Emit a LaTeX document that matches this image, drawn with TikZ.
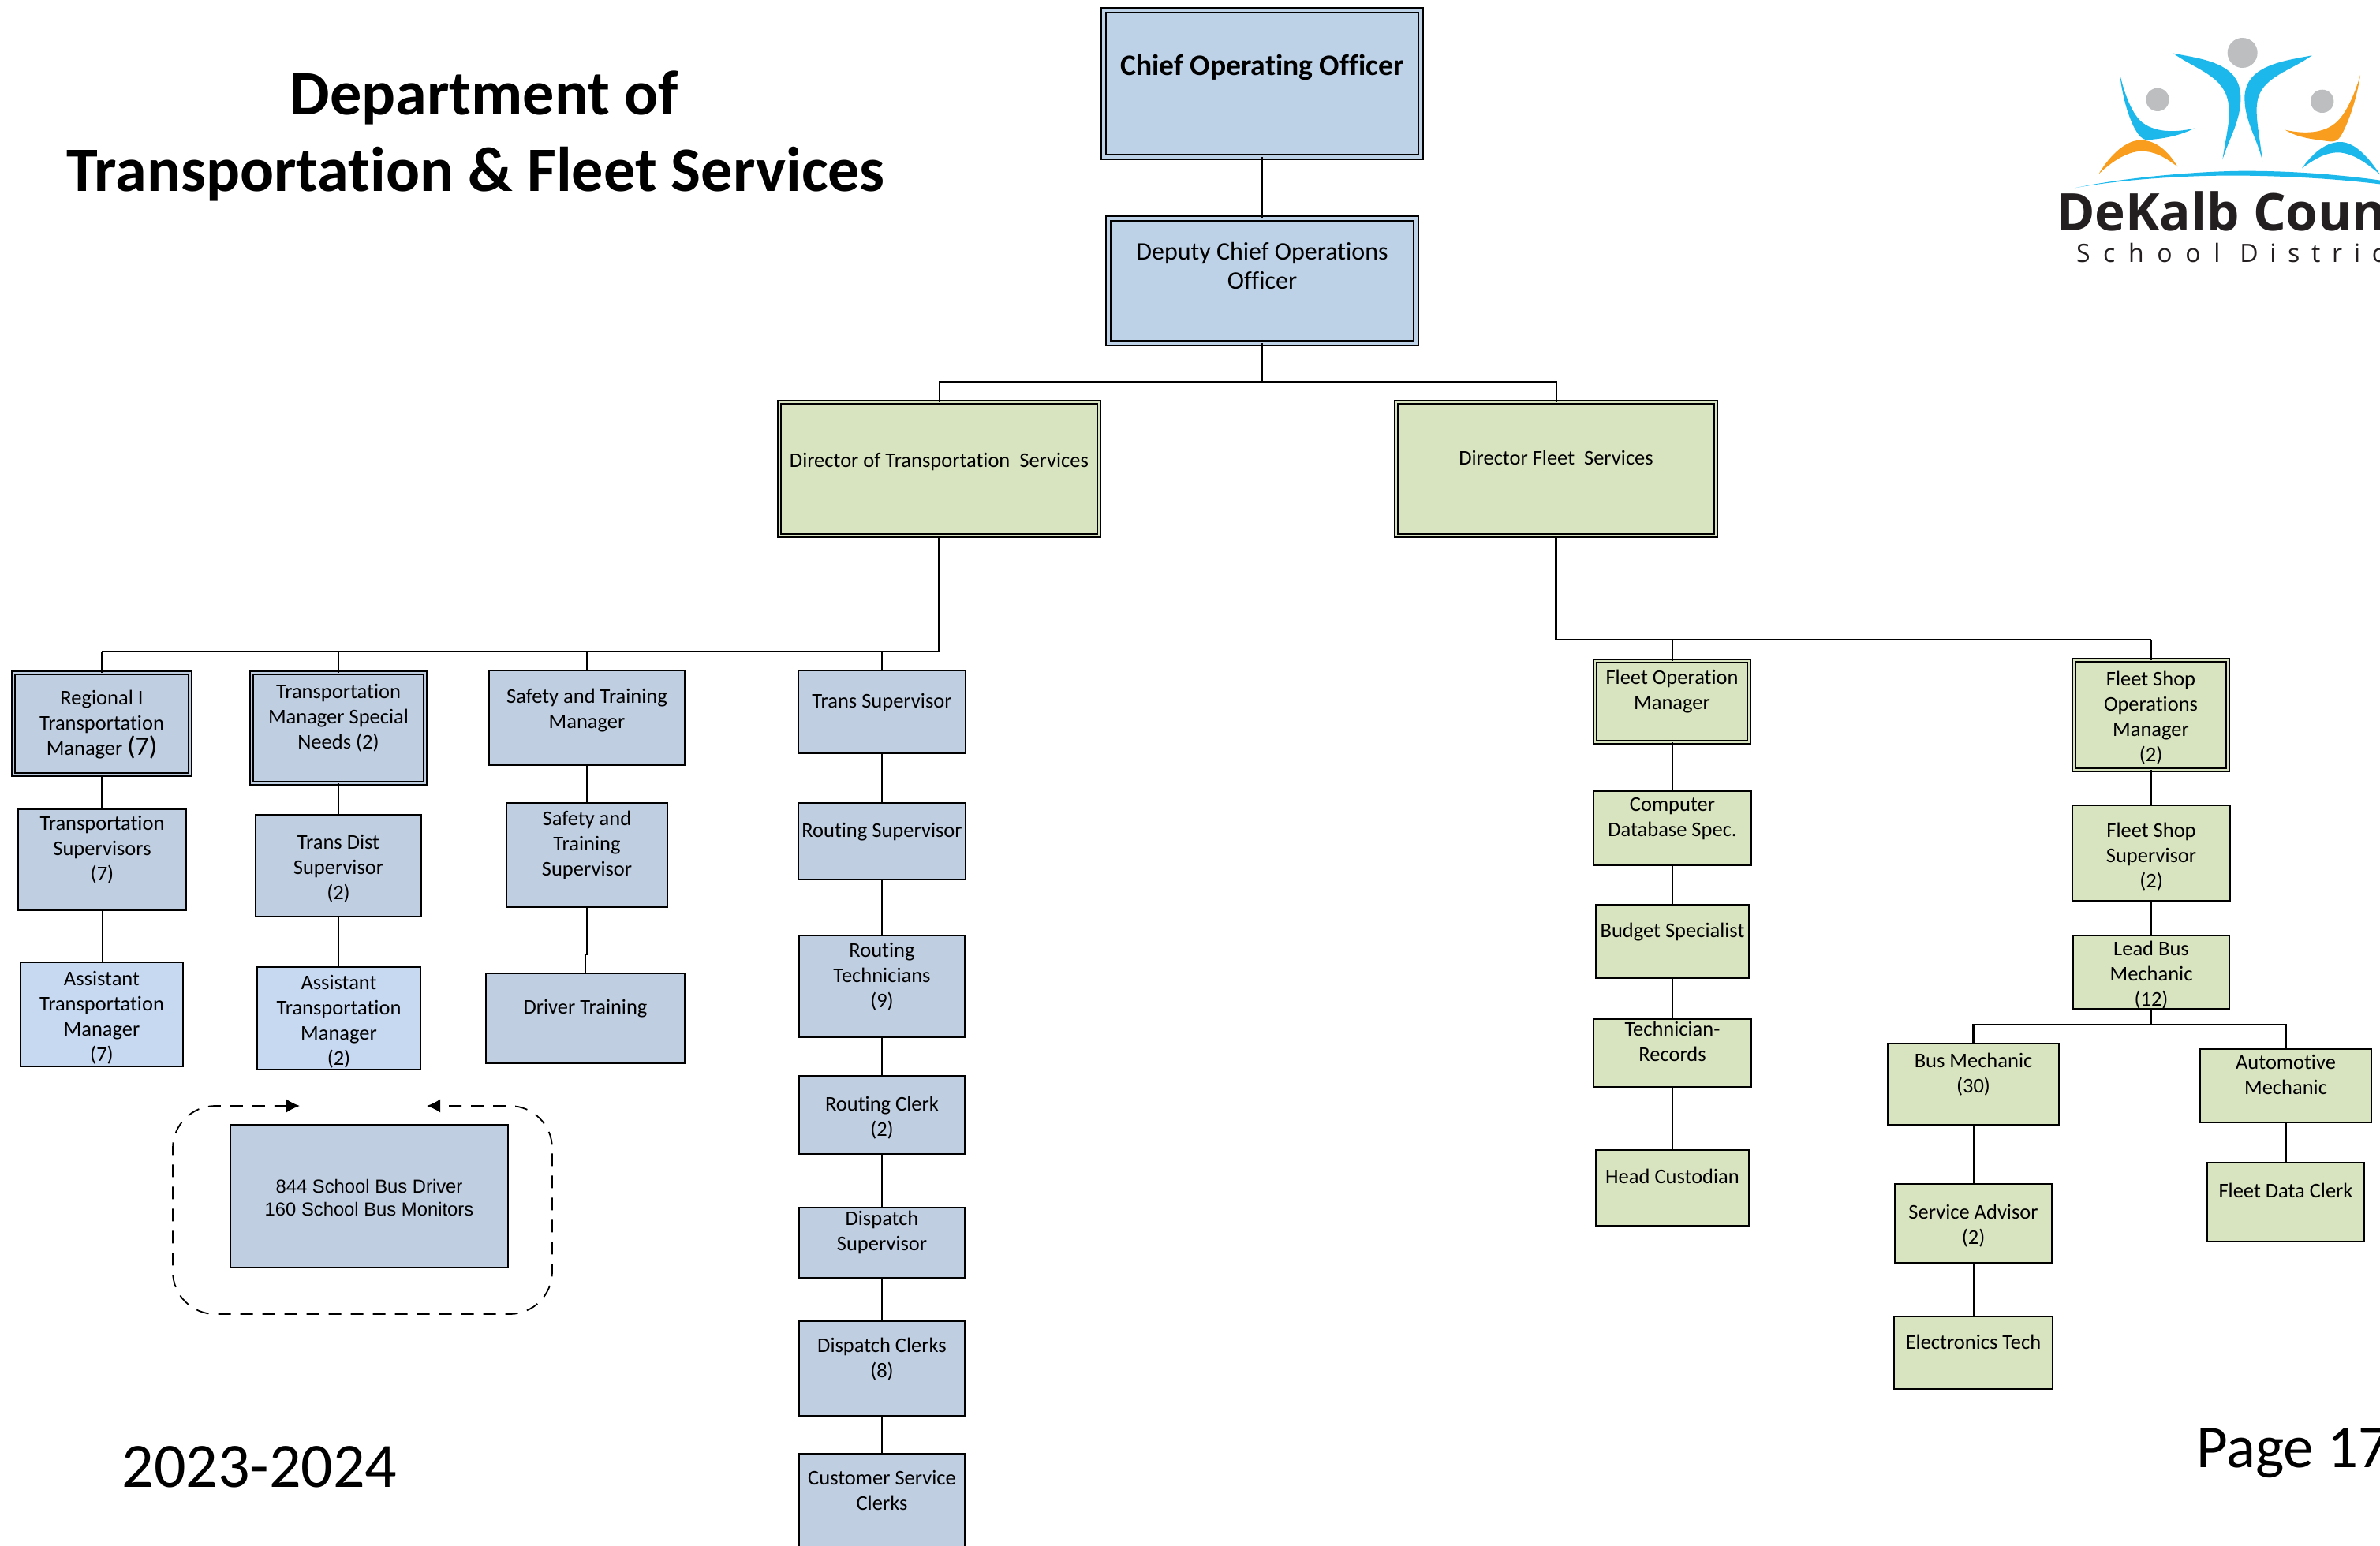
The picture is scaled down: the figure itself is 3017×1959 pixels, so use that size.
\documentclass[tikz,border=0pt]{standalone}
\usepackage{fontspec}
\setmainfont{Carlito}[Ligatures=NoCommon]
\newfontfamily\arl{Liberation Sans}
\newfontfamily\logofont{Open Sans}
\usetikzlibrary{arrows.meta}
\definecolor{bluebox}{HTML}{BFCEE1}
\definecolor{topblue}{HTML}{BDD2E7}
\definecolor{lightblue}{HTML}{C6D9F1}
\definecolor{greenbox}{HTML}{D8E3BF}
\definecolor{logoblue}{HTML}{1CB8EC}
\definecolor{logoorange}{HTML}{F99D1E}
\definecolor{logogrey}{HTML}{BCBEC0}
\definecolor{logoink}{HTML}{231F20}
\tikzset{
  orgbox/.style={rectangle,draw=black,line width=1.1pt,inner sep=0pt,outer sep=0pt,
    font=\fontsize{13.25}{16}\selectfont,text=black},
  bluefill/.style={orgbox,fill=bluebox},
  lightfill/.style={orgbox,fill=lightblue},
  greenfill/.style={orgbox,fill=greenbox},
  dblblue/.style={orgbox,fill=bluebox,line width=1pt,double=bluebox,double distance=1.3pt},
  dbltop/.style={orgbox,fill=topblue,line width=1pt,double=topblue,double distance=1.6pt},
  dblgreen/.style={orgbox,fill=greenbox,line width=1pt,double=greenbox,double distance=1.3pt},
  conn/.style={draw=black,line width=1pt},
  busline/.style={draw=black,line width=1.4pt},
  bigtext/.style={inner sep=0pt,outer sep=0pt,text=black},
  loopline/.style={draw=black,line width=0.9pt,dash pattern=on 8pt off 6pt,rounded corners=27pt,
    {Latex[length=8.5pt,width=8.5pt]}-{Latex[length=8.5pt,width=8.5pt]}},
}
% name, style, x1, y1, x2, y2, text centre y, text
\newcommand{\bx}[8]{%
  \pgfmathsetmacro{\boxw}{(#5-#3)*0.5}%
  \pgfmathsetmacro{\boxh}{(#6-#4)*0.5}%
  \pgfmathsetmacro{\boxup}{((#4+#6)/2-#7)*0.5-5}%
  \node[#2,minimum width=\boxw pt,minimum height=\boxh pt] (#1) at ({(#3+#5)/2},{(#4+#6)/2})
    {\raisebox{\boxup pt}[0pt][0pt]{\begin{tabular}[c]{@{}c@{}}#8\end{tabular}}};%
}
\newcommand{\vc}[2]{\draw[conn] (#1.south) -- (#1.south |- #2.north);}
\begin{document}
\begin{tikzpicture}[x=0.5pt,y=-0.5pt]
\useasboundingbox (0,0) rectangle (3017,1959);
\clip (0,0) rectangle (3017,1959);

% titles
\node[bigtext,anchor=base,font=\fontsize{40.1}{42}\selectfont\bfseries] (title1) at (614,146) {Department of};
\node[bigtext,anchor=base,font=\fontsize{40.1}{42}\selectfont\bfseries] (title2) at (603,242) {Transportation \& Fleet Services};
\node[bigtext,anchor=base,font=\fontsize{40}{42}\selectfont] (year) at (329,1885) {2023-2024};
\node[bigtext,anchor=base west,font=\fontsize{38.5}{42}\selectfont] (page) at (2784,1860) {Page 17};

% boxes: top
\bx{coo}{dbltop,font=\fontsize{18.8}{20}\selectfont\bfseries}{1399}{13}{1801}{199}{86}{Chief Operating Officer}
\bx{dep}{dbltop,font=\fontsize{16}{18.5}\selectfont}{1405}{277}{1795}{435}{339}{Deputy Chief Operations\\Officer}
\bx{dirT}{dblgreen}{988}{510}{1393}{679}{583}{Director of Transportation\ \ Services}
\bx{dirF}{dblgreen}{1770}{510}{2175}{679}{580}{Director Fleet\ \ Services}

% left columns
\bx{reg}{dblblue}{17}{853}{241}{982}{916}{Regional I\\Transportation\\Manager {\smash{\fontsize{17}{16}\selectfont (7)}}}
\bx{tsup}{bluefill}{23}{1026}{236}{1154}{1075}{Transportation\\Supervisors\\(7)}
\bx{asst1}{lightfill}{26}{1220}{232}{1352}{1288}{Assistant\\Transportation\\Manager\\(7)}
\bx{tsn}{dblblue}{319}{853}{539}{993}{908}{Transportation\\Manager Special\\Needs (2)}
\bx{tds}{bluefill}{324}{1033}{534}{1162}{1099}{Trans Dist\\Supervisor\\(2)}
\bx{asst2}{lightfill}{326}{1226}{533}{1356}{1293}{Assistant\\Transportation\\Manager\\(2)}
\bx{stm}{bluefill}{620}{850}{868}{970}{898}{Safety and Training\\Manager}
\bx{sts}{bluefill}{642}{1018}{846}{1150}{1069}{Safety and\\Training\\Supervisor}
\bx{drv}{bluefill}{616}{1234}{868}{1348}{1276}{Driver Training}
\bx{drivers}{bluefill,font=\arl\fontsize{11.9}{14.5}\selectfont}{292}{1426}{644}{1607}{1517}{844 School Bus Driver\\160 School Bus Monitors}

% middle column
\bx{trs}{bluefill}{1012}{850}{1224}{955}{888}{Trans Supervisor}
\bx{rsup}{bluefill}{1012}{1018}{1224}{1115}{1052}{Routing Supervisor}
\bx{rtech}{bluefill}{1013}{1186}{1223}{1315}{1236}{Routing\\Technicians\\(9)}
\bx{rclk}{bluefill}{1013}{1364}{1223}{1463}{1415}{Routing Clerk\\(2)}
\bx{dsup}{bluefill}{1013}{1531}{1223}{1620}{1560}{Dispatch\\Supervisor}
\bx{dclk}{bluefill}{1013}{1675}{1223}{1795}{1721}{Dispatch Clerks\\(8)}
\bx{csc}{bluefill}{1013}{1843}{1223}{2010}{1889}{Customer Service\\Clerks}

% fleet columns
\bx{fop}{dblgreen}{2022}{838}{2217}{941}{874}{Fleet Operation\\Manager}
\bx{cds}{greenfill}{2020}{1003}{2220}{1097}{1035}{Computer\\Database Spec.}
\bx{bud}{greenfill}{2023}{1147}{2217}{1240}{1179}{Budget Specialist}
\bx{tec}{greenfill}{2020}{1292}{2220}{1378}{1320}{Technician-\\Records}
\bx{hcu}{greenfill}{2023}{1458}{2217}{1554}{1491}{Head Custodian}
\bx{fso}{dblgreen}{2629}{837}{2824}{976}{908}{Fleet Shop\\Operations\\Manager\\(2)}
\bx{fss}{greenfill}{2627}{1021}{2827}{1142}{1084}{Fleet Shop\\Supervisor\\(2)}
\bx{lead}{greenfill}{2628}{1186}{2826}{1279}{1234}{Lead Bus\\Mechanic\\(12)}
\bx{bmec}{greenfill}{2393}{1323}{2610}{1426}{1360}{Bus Mechanic\\(30)}
\bx{sadv}{greenfill}{2402}{1501}{2601}{1601}{1552}{Service Advisor\\(2)}
\bx{etec}{greenfill}{2401}{1669}{2602}{1761}{1701}{Electronics Tech}
\bx{amec}{greenfill}{2789}{1330}{3006}{1423}{1362}{Automotive\\Mechanic}
\bx{fdc}{greenfill}{2798}{1474}{2997}{1574}{1509}{Fleet Data Clerk}

% connectors
\coordinate (busA) at (1600,484);
\coordinate (busB) at (1191,826);
\coordinate (busC) at (1973,811);
\coordinate (busD) at (2727,1299);
\coordinate (jog) at (744,1210);
\vc{coo}{dep}
\draw[conn] (dep.south) -- (busA);
\draw[conn] (dirT.north) |- (busA);
\draw[conn] (dirF.north) |- (busA);
\draw[busline] (dirT.south) |- (reg.north |- busB);
\draw[conn] (reg.north) -- (reg.north |- busB);
\draw[conn] (tsn.north) -- (tsn.north |- busB);
\draw[conn] (stm.north) -- (stm.north |- busB);
\draw[conn] (trs.north) -- (trs.north |- busB);
\draw[busline] (dirF.south) |- (fso.north |- busC);
\draw[conn] (fop.north) -- (fop.north |- busC);
\draw[conn] (fso.north) -- (fso.north |- busC);
\vc{reg}{tsup}\vc{tsup}{asst1}
\vc{tsn}{tds}\vc{tds}{asst2}
\vc{stm}{sts}
\draw[conn] (sts.south) -- (jog) -| (drv.north);
\vc{trs}{rsup}\vc{rsup}{rtech}\vc{rtech}{rclk}\vc{rclk}{dsup}\vc{dsup}{dclk}\vc{dclk}{csc}
\vc{fop}{cds}\vc{cds}{bud}\vc{bud}{tec}\vc{tec}{hcu}
\vc{fso}{fss}\vc{fss}{lead}
\draw[conn] (lead.south) -- (busD);
\draw[busline] (bmec.north) |- (amec.north |- busD) -- (amec.north);
\vc{bmec}{sadv}\vc{sadv}{etec}
\vc{amec}{fdc}

% dashed loop round the drivers box
\coordinate (loopA) at (380,1402);
\coordinate (loopB) at (541,1402);
\draw[loopline] (loopA) -- (219,1402) -- (219,1666) -- (700,1666) -- (700,1402) -- (loopB);

% logo, drawn in the coordinates of a 3x enlargement
\begin{scope}[shift={(2500,0)},x=0.16667pt,y=-0.16667pt]
  \fill[logogrey] (1028,201) circle[radius=57];
  \fill[logogrey] (705,379) circle[radius=44];
  \fill[logogrey] (1331,385) circle[radius=44];
  \fill[logoblue] (765,203) .. controls (880,225) and (1020,240) .. (1021,370)
    .. controls (1022,460) and (975,530) .. (952,607)
    .. controls (965,520) and (985,440) .. (975,400)
    .. controls (965,290) and (850,265) .. (765,203) -- cycle;
  \fill[logoblue] (1292,211) .. controls (1180,232) and (1035,250) .. (1036,375)
    .. controls (1036,460) and (1085,530) .. (1104,613)
    .. controls (1095,530) and (1075,440) .. (1084,390)
    .. controls (1095,295) and (1210,270) .. (1292,211) -- cycle;
  \fill[logoblue] (561,280) .. controls (575,400) and (610,490) .. (640,520)
    .. controls (655,535) and (670,533) .. (680,531)
    .. controls (740,525) and (790,515) .. (845,488)
    .. controls (770,505) and (690,505) .. (640,460)
    .. controls (600,420) and (575,340) .. (561,280) -- cycle;
  \fill[logoorange] (481,662) .. controls (530,580) and (590,533) .. (640,533)
    .. controls (700,533) and (745,575) .. (781,634)
    .. controls (730,595) and (690,575) .. (645,575)
    .. controls (590,575) and (530,615) .. (481,662) -- cycle;
  \fill[logoorange] (1476,285) .. controls (1460,390) and (1425,480) .. (1400,520)
    .. controls (1390,535) and (1375,540) .. (1360,538)
    .. controls (1300,530) and (1240,525) .. (1190,494)
    .. controls (1260,510) and (1340,510) .. (1390,460)
    .. controls (1430,420) and (1460,340) .. (1476,285) -- cycle;
  \fill[logoblue] (1254,640) .. controls (1300,575) and (1350,540) .. (1400,540)
    .. controls (1460,540) and (1515,610) .. (1551,664)
    .. controls (1500,620) and (1445,580) .. (1390,580)
    .. controls (1340,580) and (1295,610) .. (1254,640) -- cycle;
  \fill[logoblue] (390,715) .. controls (600,670) and (900,650) .. (1040,650)
    .. controls (1250,650) and (1450,670) .. (1580,690)
    -- (1580,704) .. controls (1400,680) and (1200,670) .. (1040,668)
    .. controls (800,665) and (550,685) .. (390,715) -- cycle;
\end{scope}
\node[bigtext,text=logoink,anchor=base west,font=\logofont\bfseries\fontsize{32.8}{36}\selectfont] (logoname) at (2607,292) {DeKalb County};
\node[bigtext,text=logoink,anchor=base west,font=\logofont\fontsize{16}{18}\selectfont\addfontfeature{LetterSpace=52}] (logosub) at (2632,332) {School {\addfontfeature{LetterSpace=46}District}};
\end{tikzpicture}
\end{document}
